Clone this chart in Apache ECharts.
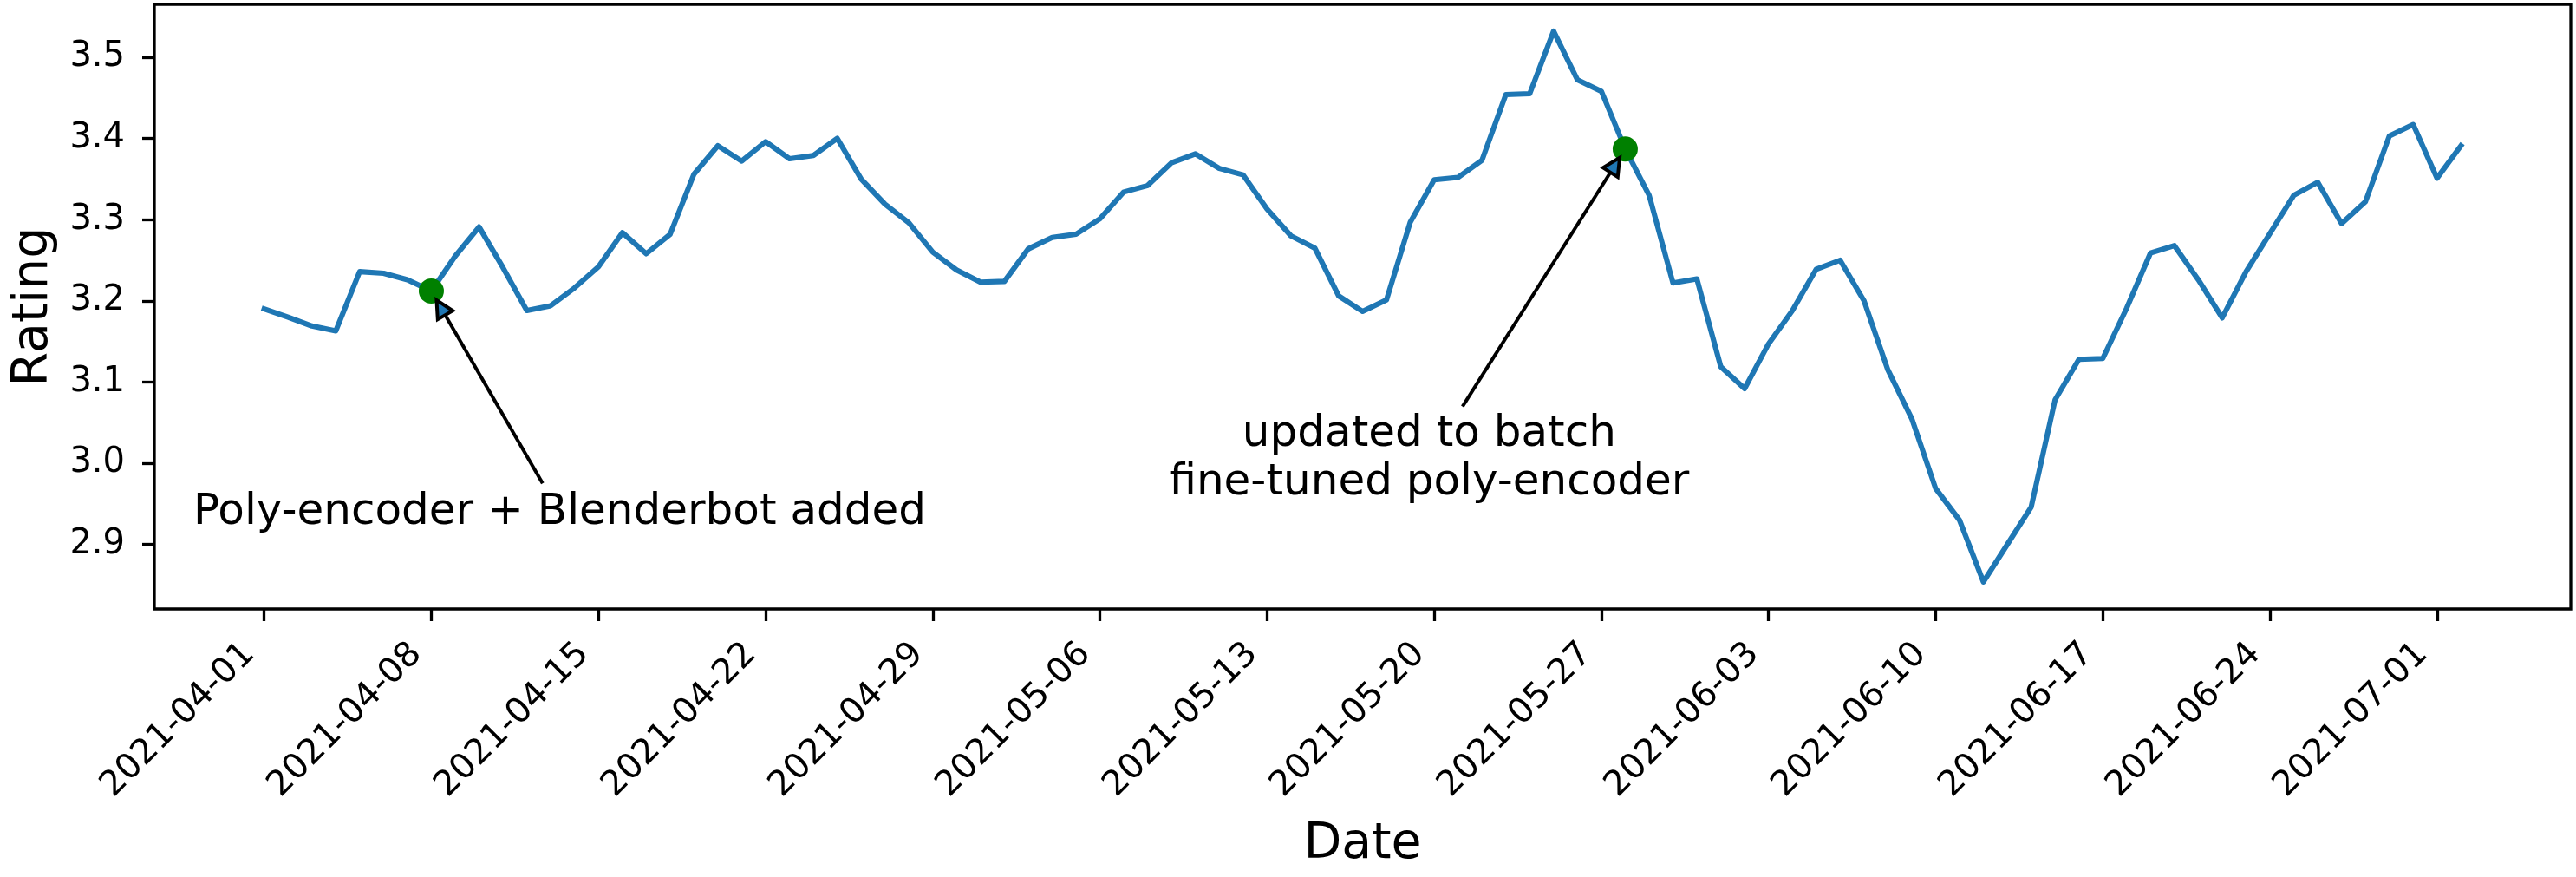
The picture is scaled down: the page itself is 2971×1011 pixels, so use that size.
<!DOCTYPE html>
<html>
<head>
<meta charset="utf-8">
<script src="https://cdn.jsdelivr.net/npm/echarts@6/dist/echarts.min.js"></script>
<style>
html, body { margin: 0; padding: 0; background: #fff; }
#chart { width: 2971px; height: 1011px; }
</style>
</head>
<body>
<div id="chart"></div>
<script>
// daily rating, one value per day starting at startDate
const startDate = '2021-04-01';
const ratings = [
    3.190, 3.180, 3.169, 3.163, 3.236, 3.234, 3.226, 3.212, 3.255, 3.291,
    3.241, 3.188, 3.194, 3.216, 3.242, 3.284, 3.258, 3.282, 3.356, 3.391,
    3.372, 3.396, 3.375, 3.379, 3.400, 3.350, 3.319, 3.296, 3.260, 3.238,
    3.223, 3.224, 3.264, 3.278, 3.282, 3.301, 3.334, 3.342, 3.370, 3.381,
    3.363, 3.355, 3.313, 3.280, 3.265, 3.206, 3.187, 3.201, 3.297, 3.349,
    3.352, 3.373, 3.454, 3.455, 3.532, 3.472, 3.458, 3.387, 3.330, 3.222,
    3.227, 3.119, 3.092, 3.147, 3.188, 3.239, 3.250, 3.200, 3.115, 3.055,
    2.969, 2.930, 2.854, 2.900, 2.946, 3.078, 3.128, 3.129, 3.191, 3.259,
    3.268, 3.226, 3.179, 3.236, 3.283, 3.330, 3.346, 3.295, 3.322, 3.403,
    3.417, 3.351, 3.391
];
const xTickLabels = [
    '2021-04-01', '2021-04-08', '2021-04-15', '2021-04-22', '2021-04-29',
    '2021-05-06', '2021-05-13', '2021-05-20', '2021-05-27', '2021-06-03',
    '2021-06-10', '2021-06-17', '2021-06-24', '2021-07-01'
];
const yTickValues = [2.9, 3.0, 3.1, 3.2, 3.3, 3.4, 3.5];

// annotated events
const markerDates = ['2021-04-08', '2021-05-28'];
const markerValues = [3.212, 3.387];
const noteTexts = ['Poly-encoder + Blenderbot added', 'updated to batch\nfine-tuned poly-encoder'];
const noteDates = ['2021-04-13 09:00', '2021-05-19 19:00'];
const noteValues = [2.939, 3.005];

const DAY = 86400000;
const parse = s => echarts.number.parseDate(s).getTime();
const t0 = parse(startDate);
const seriesData = ratings.map((v, i) => [t0 + i * DAY, v]);
const markerData = markerDates.map((d, i) => [parse(d), markerValues[i]]);
const noteData = markerDates.map((d, i) => [parse(d), markerValues[i]]);

const FONT = 'DejaVu Sans';

const chart = echarts.init(document.getElementById('chart'), null, { renderer: 'canvas' });
const option = {
    animation: false,
    backgroundColor: '#fff',
    grid: {
        left: 178, right: 6, top: 5, bottom: 309,
        show: true, borderColor: '#000', borderWidth: 3.3,
        containLabel: false, outerBoundsMode: 'none'
    },
    xAxis: {
        // timestamps on a value axis so the weekly ticks can be given directly
        type: 'value',
        min: t0 - 4.6 * DAY,
        max: t0 + 96.6 * DAY,
        name: 'Date',
        nameLocation: 'middle',
        nameGap: 244,
        nameTextStyle: { fontFamily: FONT, fontSize: 57, color: '#000' },
        axisLine: { show: false },
        axisTick: {
            show: true, length: 14, inside: false,
            customValues: xTickLabels.map(parse),
            lineStyle: { color: '#000', width: 3.3 }
        },
        axisLabel: {
            rotate: 45,
            margin: 29,
            padding: [0, 24, 0, 0],
            fontFamily: FONT, fontSize: 40, color: '#000',
            customValues: xTickLabels.map(parse),
            formatter: value => echarts.time.format(value, '{yyyy}-{MM}-{dd}', false)
        },
        splitLine: { show: false }
    },
    yAxis: {
        type: 'value',
        min: 2.8207,
        max: 3.565,
        name: 'Rating',
        nameLocation: 'middle',
        nameRotate: 90,
        nameGap: 110,
        nameTextStyle: { fontFamily: FONT, fontSize: 57, color: '#000' },
        axisLine: { show: false },
        axisTick: {
            show: true, length: 14, inside: false,
            customValues: yTickValues,
            lineStyle: { color: '#000', width: 3.3 }
        },
        axisLabel: {
            margin: 34,
            fontFamily: FONT, fontSize: 40, color: '#000',
            customValues: yTickValues,
            formatter: v => v.toFixed(1)
        },
        splitLine: { show: false }
    },
    series: [
        {
            type: 'line',
            data: seriesData,
            showSymbol: false,
            symbol: 'none',
            lineStyle: { color: '#1f77b4', width: 6.1, cap: 'square', join: 'round' },
            z: 2
        },
        {
            type: 'scatter',
            data: markerData,
            symbol: 'circle',
            symbolSize: 29,
            itemStyle: { color: '#008000', opacity: 1 },
            z: 3
        },
        {
            type: 'custom',
            data: noteData,
            z: 4,
            renderItem: function (params, api) {
                const i = params.dataIndex;
                const p = api.coord([parse(markerDates[i]), markerValues[i]]);
                const c = api.coord([parse(noteDates[i]), noteValues[i]]);
                const lines = noteTexts[i].split('\n').length;
                const dx = p[0] - c[0], dy = p[1] - c[1];
                const len = Math.hypot(dx, dy);
                const ux = dx / len, uy = dy / len;
                // arrow leaves the text box, stops just short of the point
                const tailOff = 27 * lines / Math.abs(uy) + 8;
                const tail = [c[0] + ux * tailOff, c[1] + uy * tailOff];
                const tip = [p[0] - ux * 12, p[1] - uy * 12];
                const base = [tip[0] - ux * 20, tip[1] - uy * 20];
                const nx = -uy, ny = ux;
                return {
                    type: 'group',
                    children: [
                        {
                            type: 'line',
                            shape: { x1: tail[0], y1: tail[1], x2: base[0], y2: base[1] },
                            style: { stroke: '#000', lineWidth: 4 }
                        },
                        {
                            type: 'polygon',
                            shape: { points: [tip, [base[0] + nx * 10, base[1] + ny * 10], [base[0] - nx * 10, base[1] - ny * 10]] },
                            style: { fill: '#1f77b4', stroke: '#000', lineWidth: 4 }
                        },
                        {
                            type: 'text',
                            style: {
                                text: noteTexts[i], x: c[0], y: c[1],
                                align: 'center', verticalAlign: 'middle',
                                font: '50px "' + FONT + '"', fill: '#000', lineHeight: 56
                            }
                        }
                    ]
                };
            }
        }
    ]
};
chart.setOption(option);
</script>
</body>
</html>
